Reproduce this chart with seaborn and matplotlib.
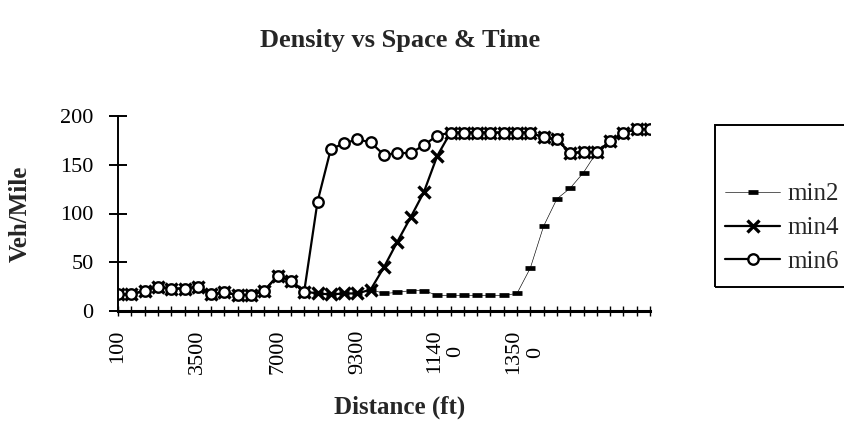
import numpy as np
import matplotlib
matplotlib.use("Agg")
import matplotlib.pyplot as plt
import matplotlib.transforms as mtransforms
from matplotlib.patches import Rectangle
import seaborn as sns

# Density (veh/mile) at each station, for three snapshots in time
min2 = [17, 17, 21, 25, 23, 23, 25, 17, 19, 16.5, 16.5, 21, 36, 31, 20, 18, 17, 18, 18, 22,
        18, 19, 21, 21, 16, 16, 16, 16, 16, 16, 18, 44, 87, 115, 126, 142, 163,
        174, 183, 186.5, 186.5]
min4 = [17, 17, 21, 25, 23, 23, 25, 17, 19, 16.5, 16.5, 21, 36, 31, 20, 18, 17, 18, 18, 22,
        45, 71, 96, 122, 159, 183, 183, 183, 183, 183, 183, 183, 178, 176, 162, 163, 163,
        174, 183, 186.5, 186.5]
min6 = [17, 17, 21, 25, 23, 23, 25, 17, 19, 16.5, 16.5, 21, 36, 31, 20, 112, 166, 172, 176, 173,
        160, 162, 162, 170, 180, 183, 183, 183, 183, 183, 183, 183, 178, 176, 162, 163, 163,
        174, 183, 186.5, 186.5]

# Distance labels shown on the category axis (one every six stations)
distance_labels = ["100", "3500", "7000", "9300", "1140\n0", "1350\n0"]
label_step = 6
y_ticks = [0, 50, 100, 150, 200]

sns.set_theme(style="white")
plt.rcParams["font.family"] = ["Liberation Serif", "DejaVu Serif"]

W, H = 844, 433
fig = plt.figure(figsize=(W / 100, H / 100), dpi=100)
fig.patch.set_facecolor("white")

# plot area in pixel coordinates
left, right, top, bottom = 118, 650, 116, 311
ax = fig.add_axes([left / W, 1 - bottom / H, (right - left) / W, (bottom - top) / H])
ax.set_facecolor("white")

stations = np.arange(len(min6))

sns.lineplot(x=stations, y=min2, ax=ax, color="black", linewidth=0.45,
             marker="_", markersize=7.5, markeredgewidth=3.4,
             markeredgecolor="black", label="min2")
sns.lineplot(x=stations, y=min4, ax=ax, color="black", linewidth=1.6,
             marker="x", markersize=9, markeredgewidth=2.4,
             markeredgecolor="black", label="min4")
sns.lineplot(x=stations, y=min6, ax=ax, color="black", linewidth=1.6,
             marker="o", markersize=7.5, markerfacecolor="white",
             markeredgecolor="black", markeredgewidth=1.7, label="min6")

ax.set_xlim(0, len(min6) - 1)
ax.set_ylim(0, 200)
ax.set_yticks(y_ticks)
ax.set_yticklabels([str(v) for v in y_ticks])
ax.set_xticks(stations)
tick_text = [""] * len(stations)
for i, lab in enumerate(distance_labels):
    tick_text[i * label_step] = lab
ax.set_xticklabels(tick_text, rotation=90)

for s in ["top", "right"]:
    ax.spines[s].set_visible(False)
ax.spines["left"].set_linewidth(1.4)
ax.spines["bottom"].set_linewidth(2.2)
for s in ["left", "bottom"]:
    ax.spines[s].set_color("black")

ax.tick_params(axis="y", direction="inout", length=13, width=1.4, labelsize=16,
               pad=11, colors="black", left=True)
ax.tick_params(axis="x", direction="inout", length=7, width=1.0, labelsize=16,
               pad=10, colors="black", bottom=True)

# wrapped labels sit with their first line on the tick
shift = mtransforms.ScaledTranslation(8 / 100, 0, fig.dpi_scale_trans)
for lab in ax.get_xticklabels():
    if "\n" in lab.get_text():
        lab.set_transform(lab.get_transform() + shift)

ax.grid(False)

fig.text(400 / W, 1 - 40 / H, "Density vs Space & Time", ha="center", va="center",
         fontsize=19, fontweight="bold")
fig.text(20 / W, 1 - 214 / H, "Veh/Mile", ha="center", va="center", rotation=90,
         fontsize=18, fontweight="bold")
fig.text(400 / W, 1 - 407 / H, "Distance (ft)", ha="center", va="center",
         fontsize=18, fontweight="bold")

# legend on the right, partly cut by the figure edge
ax.get_legend().remove()
handles, labels = ax.get_legend_handles_labels()
fig.legend(handles, labels, loc="center left",
           bbox_to_anchor=(725 / W, 1 - 228 / H), bbox_transform=fig.transFigure,
           frameon=False, prop={"size": 18}, handlelength=2.2, handletextpad=0.3,
           labelspacing=0.45, borderpad=0, borderaxespad=0)
fig.add_artist(Rectangle((715 / W, 1 - 287 / H), 0.25, (287 - 125) / H,
                         transform=fig.transFigure, fill=False, edgecolor="black",
                         linewidth=1.4, clip_on=False))

fig.savefig("out.png", dpi=100, facecolor="white")
